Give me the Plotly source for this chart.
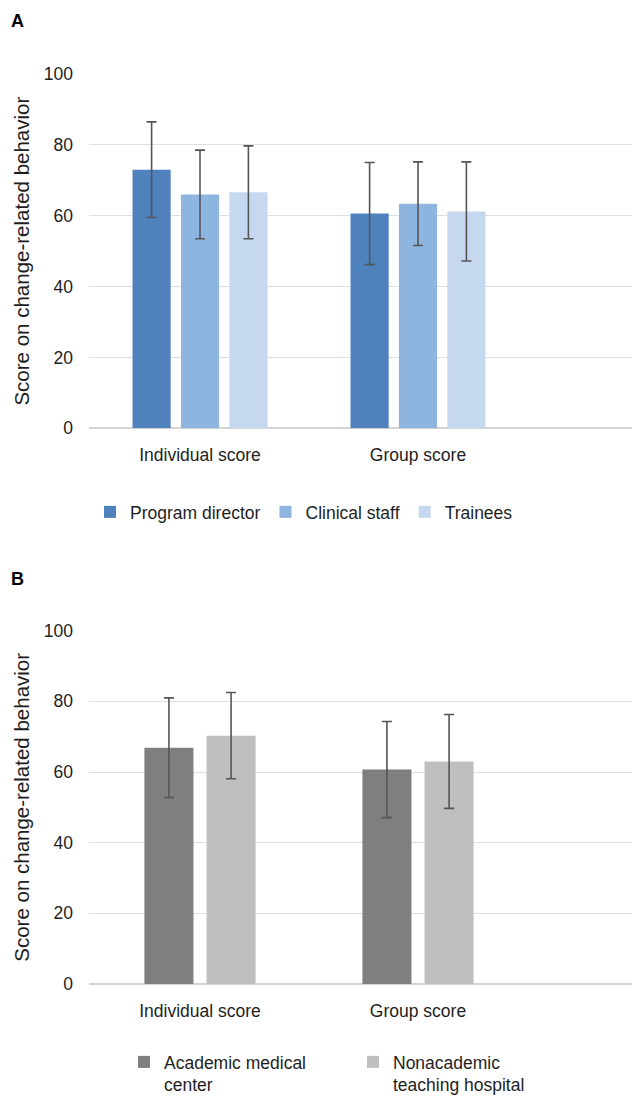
import plotly.graph_objects as go

# ---------------- data ----------------
categories = ["Individual score", "Group score"]

a_series = ["Program director", "Clinical staff", "Trainees"]
a_values = [[73.0, 60.6], [66.0, 63.4], [66.6, 61.2]]
a_errors = [[13.5, 14.4], [12.5, 11.8], [13.1, 14.0]]
a_colors = ["#4f81bd", "#8eb4e0", "#c5d8ef"]

b_series = ["Academic medical<br>center", "Nonacademic<br>teaching hospital"]
b_values = [[66.9, 60.7], [70.3, 63.0]]
b_errors = [[14.1, 13.6], [12.2, 13.3]]
b_colors = ["#7f7f7f", "#bfbfbf"]

y_ticks = [0, 20, 40, 60, 80, 100]
panel_labels = ["A", "B"]
y_title = "Score on change-related behavior"

# ---------------- style ----------------
FONT = "Liberation Sans, Arial, sans-serif"
TXT = "#1e1e1e"
OFF = 8                      # page body margin
W, H = 640 - OFF, 1100 - OFF
ML = 89 - OFF
PW = W - ML

def fy(screen_y):            # screen pixel -> paper fraction (vertical)
    return 1 - (screen_y - OFF) / H

def fx(screen_x):            # screen pixel -> paper fraction (horizontal)
    return (screen_x - OFF - ML) / PW

fig = go.Figure()

a_width = 0.175
a_step = 0.222
for i, (name, vals, errs, col) in enumerate(zip(a_series, a_values, a_errors, a_colors)):
    fig.add_trace(go.Bar(
        x=categories, y=vals, name=name,
        marker=dict(color=col, line=dict(width=0)),
        width=a_width, offset=(i - 1) * a_step - a_width / 2,
        error_y=dict(type="data", array=errs, visible=True,
                     color="#555555", thickness=1.6, width=5),
        xaxis="x", yaxis="y", legend="legend",
    ))

b_width = 0.225
b_step = 0.285
for i, (name, vals, errs, col) in enumerate(zip(b_series, b_values, b_errors, b_colors)):
    fig.add_trace(go.Bar(
        x=categories, y=vals, name=name,
        marker=dict(color=col, line=dict(width=0)),
        width=b_width, offset=(i - 0.5) * b_step - b_width / 2,
        error_y=dict(type="data", array=errs, visible=True,
                     color="#555555", thickness=1.6, width=5),
        xaxis="x2", yaxis="y2", legend="legend2",
    ))

# category 0 centred at screen x=200, category spacing 218 px
xr = [-(200 - 89) / 218.0, (640 - 200) / 218.0]

def xax(anchor):
    return dict(domain=[0, 1], anchor=anchor, range=xr, type="category",
                showgrid=False, showline=False, zeroline=False, ticks="",
                tickfont=dict(family=FONT, size=17.5, color=TXT),
                ticklabelstandoff=14)

def yax(anchor, dom):
    return dict(domain=dom, anchor=anchor, range=[0, 100], tickvals=y_ticks,
                showgrid=True, gridcolor="#dedede", gridwidth=1.3,
                zeroline=True, zerolinecolor="#d4d4d4", zerolinewidth=1.6,
                showline=False, ticks="",
                tickfont=dict(family=FONT, size=17.5, color=TXT),
                ticklabelstandoff=15,
                title=dict(text=y_title, font=dict(family=FONT, size=20.5, color=TXT),
                           standoff=8))

fig.update_layout(
    width=W, height=H,
    margin=dict(l=ML, r=0, t=0, b=0, autoexpand=False),
    paper_bgcolor="white", plot_bgcolor="white",
    barmode="overlay",
    showlegend=True,
    xaxis=xax("y"),
    yaxis=yax("x", [fy(428.3), fy(74)]),
    xaxis2=xax("y2"),
    yaxis2=yax("x2", [fy(984), fy(630.7)]),
    legend=dict(orientation="h", x=fx(90), y=fy(512),
                xanchor="left", yanchor="middle",
                font=dict(family=FONT, size=17.5, color=TXT),
                bgcolor="rgba(0,0,0,0)", traceorder="normal"),
    legend2=dict(orientation="h", x=fx(124), y=fy(1044),
                 xanchor="left", yanchor="top", valign="top",
                 entrywidth=184, entrywidthmode="pixels",
                 font=dict(family=FONT, size=17.5, color=TXT),
                 bgcolor="rgba(0,0,0,0)", traceorder="normal"),
)

for lbl, ypix in zip(panel_labels, [21, 579]):
    fig.add_annotation(text="<b>%s</b>" % lbl, xref="paper", yref="paper",
                       x=fx(17), y=fy(ypix),
                       xanchor="center", yanchor="middle", showarrow=False,
                       font=dict(family=FONT, size=18, color="#000"))

fig.write_html("out.html")
